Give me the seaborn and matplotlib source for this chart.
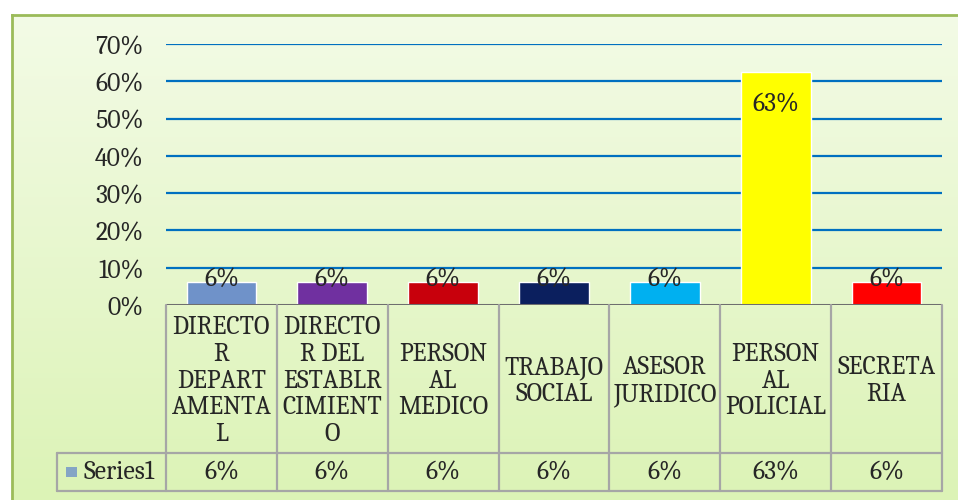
import math
import numpy as np
import pandas as pd
import matplotlib
matplotlib.use("Agg")
import matplotlib.pyplot as plt
import seaborn as sns
from matplotlib.transforms import blended_transform_factory
from matplotlib.lines import Line2D
from matplotlib.patches import Rectangle
from matplotlib.colors import LinearSegmentedColormap

# ---- data ----
categories = ["DIRECTOR DEPARTAMENTAL", "DIRECTOR DEL ESTABLRCIMIENTO",
              "PERSONAL MEDICO", "TRABAJO SOCIAL", "ASESOR JURIDICO",
              "PERSONAL POLICIAL", "SECRETARIA"]
header_labels = ["DIRECTO\nR\nDEPART\nAMENTA\nL", "DIRECTO\nR DEL\nESTABLR\nCIMIENT\nO",
                 "PERSON\nAL\nMEDICO", "TRABAJO\nSOCIAL", "ASESOR\nJURIDICO",
                 "PERSON\nAL\nPOLICIAL", "SECRETA\nRIA"]
values = [0.0625, 0.0625, 0.0625, 0.0625, 0.0625, 0.625, 0.0625]
series_name = "Series1"
y_ticks = [0.0, 0.1, 0.2, 0.3, 0.4, 0.5, 0.6, 0.7]
bar_colors = ["#6F92C9", "#7030A0", "#C8000C", "#0B1F5E", "#00B0F0", "#FFFF00", "#FF0000"]

def pct(v):
    return f"{int(math.floor(v * 100 + 0.5))}%"

sns.set_style("white")
plt.rcParams["font.family"] = ["Caladea", "Liberation Serif", "DejaVu Serif"]
FS = 18.5

W, H = 958, 500
fig = plt.figure(figsize=(W / 100, H / 100), dpi=100)
fig.patch.set_facecolor("white")

# background chart area with gradient
bg = fig.add_axes([12 / W, 0, 1 - 12 / W, 1 - 15 / H])
cmap = LinearSegmentedColormap.from_list("g", ["#F3FBE6", "#DCF3B6"])
bg.imshow(np.linspace(0, 1, 256).reshape(-1, 1), aspect="auto", cmap=cmap,
          extent=[0, 1, 0, 1], origin="upper")
bg.set_xlim(0, 1); bg.set_ylim(0, 1)
bg.set_xticks([]); bg.set_yticks([])
for s in ["left", "top"]:
    bg.spines[s].set_color("#9BBB59"); bg.spines[s].set_linewidth(2)
for s in ["right", "bottom"]:
    bg.spines[s].set_visible(False)
bg.set_zorder(0)

# main axes
x0, x1 = 166, 942
ytop, ybot = 44, 305
ax = fig.add_axes([x0 / W, 1 - ybot / H, (x1 - x0) / W, (ybot - ytop) / H])
ax.set_zorder(1)
ax.patch.set_alpha(0)

df = pd.DataFrame({"cat": categories, "val": values})
sns.barplot(data=df, x="cat", y="val", hue="cat", palette=bar_colors,
            width=0.63, legend=False, ax=ax, saturation=1, zorder=3)
ax.set_xlim(-0.5, len(categories) - 0.5)
ax.set_ylim(0, 0.7)
ax.set_yticks(y_ticks)
ax.set_yticklabels([pct(t) for t in y_ticks], fontsize=FS)
ax.set_xticks([])
ax.set_xlabel(""); ax.set_ylabel("")
ax.tick_params(axis="y", length=0, pad=16)
for t in y_ticks[1:]:
    ax.axhline(t, color="#0070C0", lw=1.6, zorder=1)
for s in ax.spines.values():
    s.set_visible(False)
ax.axhline(0, color="#6E6E6E", lw=2.2, zorder=4)

for i, v in enumerate(values):
    if v > 0.3:
        ax.annotate(pct(v), (i, v), xytext=(0, -23), textcoords="offset points",
                    ha="center", va="center", fontsize=FS, zorder=5)
    else:
        ax.annotate(pct(v), (i, v), xytext=(0, 1.5), textcoords="offset points",
                    ha="center", va="center", fontsize=FS, zorder=5)

# data table
tr = blended_transform_factory(ax.transData, fig.transFigure)
def fy(py):
    return 1 - py / H

grid_c = "#A6A6A6"
y_head_top, y_head_bot, y_val_bot = 305, 453, 491
n = len(categories)
for k in range(n + 1):
    xb = k - 0.5
    fig.add_artist(Line2D([xb, xb], [fy(y_head_top), fy(y_val_bot)], transform=tr,
                          color=grid_c, lw=1.6, zorder=2))
fig.add_artist(Line2D([57 / W, 942 / W], [fy(y_head_bot), fy(y_head_bot)],
                      transform=fig.transFigure, color=grid_c, lw=1.6))
fig.add_artist(Line2D([57 / W, 942 / W], [fy(y_val_bot), fy(y_val_bot)],
                      transform=fig.transFigure, color=grid_c, lw=1.6))
fig.add_artist(Line2D([57 / W, 57 / W], [fy(y_head_bot), fy(y_val_bot)],
                      transform=fig.transFigure, color=grid_c, lw=1.6))

for i, (lab, v) in enumerate(zip(header_labels, values)):
    fig.text(0, 0, lab, transform=tr, ha="center", va="center", fontsize=FS,
             linespacing=1.07).set_position((i, fy((y_head_top + y_head_bot) / 2 + 2)))
    fig.text(0, 0, pct(v), transform=tr, ha="center", va="center",
             fontsize=FS).set_position((i, fy((y_head_bot + y_val_bot) / 2)))

# legend key
fig.add_artist(Rectangle((66 / W, fy(477)), 11 / W, 10 / H, transform=fig.transFigure,
                         facecolor=bar_colors[0], edgecolor="none", alpha=0.8))
fig.text(83 / W, fy(472), series_name, ha="left", va="center", fontsize=FS)

fig.savefig("out.png", dpi=100)
